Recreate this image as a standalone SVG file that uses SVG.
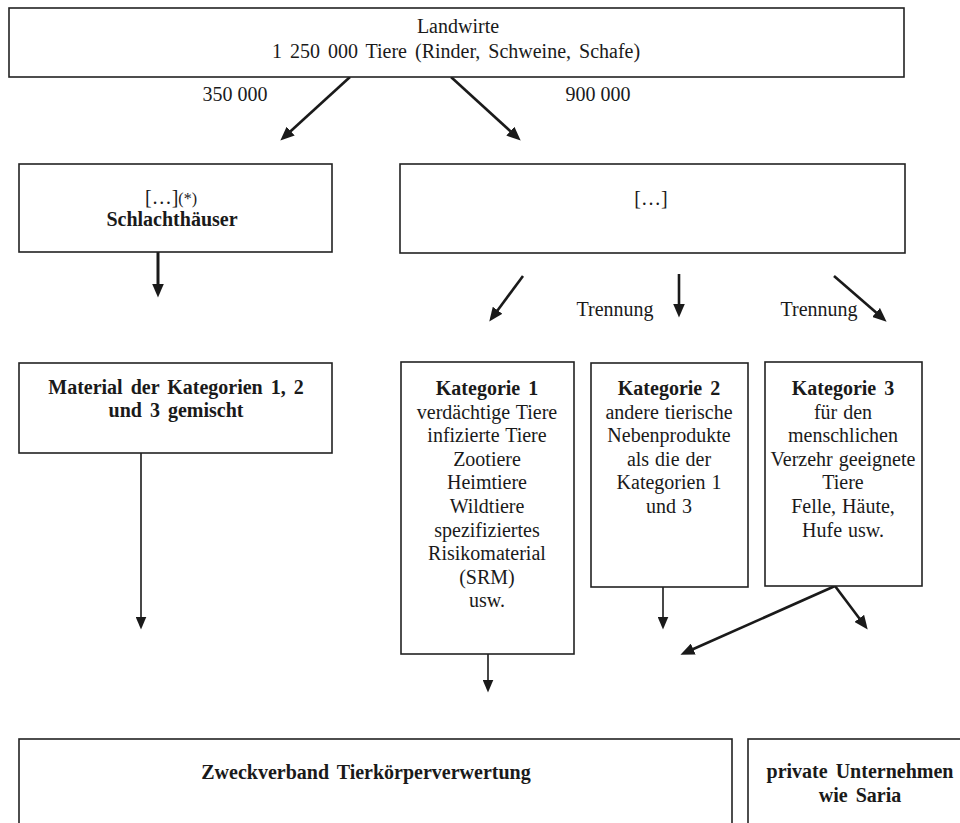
<svg xmlns="http://www.w3.org/2000/svg" width="960" height="823" viewBox="0 0 960 823">
<style>
  .box { fill: #fff; stroke: #222; stroke-width: 1.6; }
  text { font-family: "Liberation Serif", "Times New Roman", serif; font-size: 20px; fill: #1a1a1a; text-anchor: middle; }
  .b { font-weight: bold; word-spacing: 3px; }
  .r { word-spacing: 1px; }
  .thick { stroke: #1a1a1a; stroke-width: 2.6; fill: none; marker-end: url(#ah); }
  .thin { stroke: #1a1a1a; stroke-width: 1.6; fill: none; marker-end: url(#ahs); }
</style>
<defs>
  <marker id="ah" markerUnits="userSpaceOnUse" markerWidth="14" markerHeight="12" refX="0.5" refY="6" orient="auto">
    <path d="M0,0 L14,6 L0,12 z" fill="#1a1a1a"/>
  </marker>
  <marker id="ahs" markerUnits="userSpaceOnUse" markerWidth="13" markerHeight="11" refX="0.5" refY="5.5" orient="auto">
    <path d="M0,0 L13,5.5 L0,11 z" fill="#1a1a1a"/>
  </marker>
</defs>
<rect width="960" height="823" fill="#fff"/>

<g id="connectors">
  <line class="thick" x1="350" y1="77" x2="290.3" y2="131.5"/>
  <line class="thick" x1="451" y1="77" x2="510.7" y2="131.5"/>
  <line class="thick" x1="158" y1="252" x2="158" y2="284" style="stroke-width:3"/>
  <line class="thick" x1="523" y1="276" x2="497.3" y2="310.7"/>
  <line class="thick" x1="679" y1="274" x2="679" y2="304"/>
  <line class="thick" x1="834" y1="276" x2="876.4" y2="312.8"/>
  <line class="thin" x1="141" y1="453" x2="141" y2="617"/>
  <line class="thin" x1="488" y1="650" x2="488" y2="680"/>
  <line class="thin" x1="663" y1="587" x2="663" y2="617"/>
  <line class="thick" x1="835" y1="586" x2="859.6" y2="618.8"/>
  <line class="thick" x1="835" y1="586" x2="692.8" y2="649.3"/>
</g>

<g id="labels">
  <text x="235" y="101">350 000</text>
  <text x="598" y="101">900 000</text>
  <text x="615" y="316">Trennung</text>
  <text x="819" y="316">Trennung</text>
</g>

<g id="node-landwirte">
  <rect class="box" x="9" y="8" width="895" height="69"/>
  <text x="458" y="33">Landwirte</text>
  <text x="456" y="58" style="word-spacing:3px">1 250 000 Tiere (Rinder, Schweine, Schafe)</text>
</g>

<g id="node-schlachthaeuser">
  <rect class="box" x="19" y="164" width="313" height="88"/>
  <text x="171" y="204">[…]<tspan font-size="16">(*)</tspan></text>
  <text class="b" x="172" y="226">Schlachthäuser</text>
</g>

<g id="node-redacted">
  <rect class="box" x="400" y="164" width="505" height="89"/>
  <text x="651" y="205">[…]</text>
</g>

<g id="node-material">
  <rect class="box" x="19" y="363" width="313" height="90"/>
  <text class="b" x="176" y="394">Material der Kategorien 1, 2</text>
  <text class="b" x="176" y="417">und 3 gemischt</text>
</g>

<g id="node-kategorie1">
  <rect class="box" x="401" y="362" width="173" height="292"/>
  <text class="b" x="487" y="395">Kategorie 1</text>
  <text class="r" x="487" y="418.6">verdächtige Tiere</text>
  <text class="r" x="487" y="442.2">infizierte Tiere</text>
  <text class="r" x="487" y="465.8">Zootiere</text>
  <text class="r" x="487" y="489.4">Heimtiere</text>
  <text class="r" x="487" y="513">Wildtiere</text>
  <text class="r" x="487" y="536.6">spezifiziertes</text>
  <text class="r" x="487" y="560.2">Risikomaterial</text>
  <text class="r" x="487" y="583.8">(SRM)</text>
  <text class="r" x="487" y="607.4">usw.</text>
</g>

<g id="node-kategorie2">
  <rect class="box" x="591" y="363" width="157" height="224"/>
  <text class="b" x="669" y="395">Kategorie 2</text>
  <text class="r" x="669" y="418.6">andere tierische</text>
  <text class="r" x="669" y="442.2">Nebenprodukte</text>
  <text class="r" x="669" y="465.8">als die der</text>
  <text class="r" x="669" y="489.4">Kategorien 1</text>
  <text class="r" x="669" y="513">und 3</text>
</g>

<g id="node-kategorie3">
  <rect class="box" x="765" y="362" width="157" height="224"/>
  <text class="b" x="843" y="395">Kategorie 3</text>
  <text class="r" x="843" y="418.6">für den</text>
  <text class="r" x="843" y="442.2">menschlichen</text>
  <text class="r" x="843" y="465.8">Verzehr geeignete</text>
  <text class="r" x="843" y="489.4">Tiere</text>
  <text class="r" x="843" y="513">Felle, Häute,</text>
  <text class="r" x="843" y="536.6">Hufe usw.</text>
</g>

<g id="node-zweckverband">
  <rect class="box" x="19" y="739" width="713" height="100"/>
  <text class="b" x="366" y="779">Zweckverband Tierkörperverwertung</text>
</g>

<g id="node-private">
  <rect class="box" x="748" y="739" width="230" height="100"/>
  <text class="b" x="860" y="778">private Unternehmen</text>
  <text class="b" x="860" y="802">wie Saria</text>
</g>
</svg>
